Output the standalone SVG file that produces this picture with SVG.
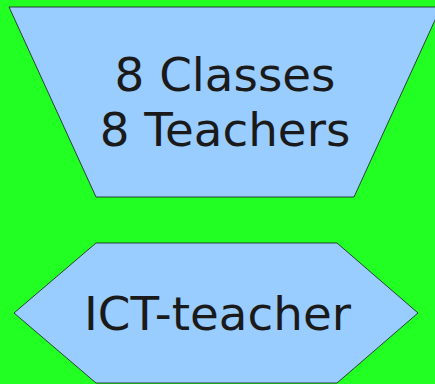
<svg xmlns="http://www.w3.org/2000/svg" width="435" height="384" viewBox="0 0 435 384">
<style>
.shape{fill:#99ccff;stroke:#1a1a1a;stroke-width:0.8}
.lbl{font-family:"DejaVu Sans",sans-serif;font-size:46.8px;fill:#1a1a1a;text-anchor:middle}
</style>
<rect width="435" height="384" fill="#22ff22"/>
<g id="classes">
<polygon class="shape" points="9,7 441,7 354,197 96,197"/>
<text class="lbl" x="225" y="91">8 Classes</text>
<text class="lbl" x="225" y="146">8 Teachers</text>
</g>
<g id="ict">
<polygon class="shape" points="96,243 337,243 418,313 337,383 96,383 14,313"/>
<text class="lbl" x="217.5" y="330">ICT-teacher</text>
</g>
<g id="connectors"/>
</svg>
